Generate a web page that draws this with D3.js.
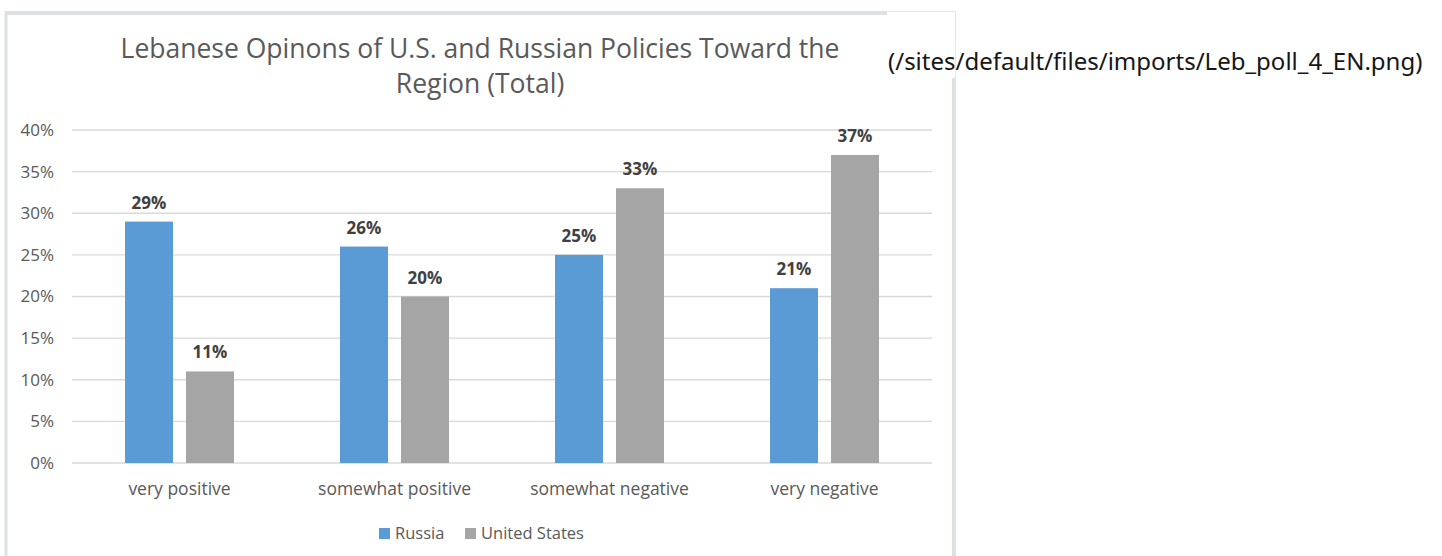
<!DOCTYPE html>
<html lang="en">
<head>
<meta charset="UTF-8">
<script src="https://cdn.jsdelivr.net/npm/d3@7"></script>
<title>Lebanese Opinons of U.S. and Russian Policies</title>
<style>
  body { margin: 0; background: #fff; overflow: hidden; }
  svg { display: block; }
</style>
</head>
<body>
<script>
// data
const categories = ['very positive', 'somewhat positive', 'somewhat negative', 'very negative'];
const seriesNames = ['Russia', 'United States'];
const russia = [0.29, 0.26, 0.25, 0.21];
const unitedStates = [0.11, 0.20, 0.33, 0.37];
const yTicks = [0, 0.05, 0.10, 0.15, 0.20, 0.25, 0.30, 0.35, 0.40];
const colors = ['#5B9BD5', '#A5A5A5'];
const titleLines = ['Lebanese Opinons of U.S. and Russian Policies Toward the', 'Region (Total)'];
const altText = '(/sites/default/files/imports/Leb_poll_4_EN.png)';

const font = '"Open Sans", sans-serif';

const svg = d3.select('body').append('svg')
  .attr('width', 1442)
  .attr('height', 556);

// frame of the embedded image
svg.append('line')
  .attr('x1', 5).attr('x2', 887).attr('y1', 13).attr('y2', 13)
  .attr('stroke', '#dde1e4').attr('stroke-width', 4);
svg.append('line')
  .attr('x1', 6).attr('x2', 6).attr('y1', 11).attr('y2', 556)
  .attr('stroke', '#dde1e4').attr('stroke-width', 3);
svg.append('line')
  .attr('x1', 954).attr('x2', 954).attr('y1', 78).attr('y2', 556)
  .attr('stroke', '#dde1e4').attr('stroke-width', 4);
svg.append('line')
  .attr('x1', 955.5).attr('x2', 955.5).attr('y1', 11).attr('y2', 78)
  .attr('stroke', '#e6e6e6').attr('stroke-width', 1);
svg.append('line')
  .attr('x1', 887).attr('x2', 956).attr('y1', 11.5).attr('y2', 11.5)
  .attr('stroke', '#e6e6e6').attr('stroke-width', 1);

// title
svg.append('g').selectAll('text')
  .data(titleLines)
  .join('text')
  .attr('x', 480)
  .attr('y', (d, i) => 58 + i * 35)
  .attr('text-anchor', 'middle')
  .attr('font-family', font)
  .attr('font-size', 26.5)
  .attr('fill', '#595959')
  .text(d => d);

// scales
const y = d3.scaleLinear().domain([0, 0.4]).range([463, 130]);
const x0 = d3.scaleBand().domain(categories).range([72, 932]).padding(0);
const x1 = d3.scaleBand().domain(seriesNames).range([53, 162]).paddingInner(0.213);

// gridlines
svg.append('g')
  .selectAll('line')
  .data(yTicks)
  .join('line')
  .attr('x1', 72).attr('x2', 932)
  .attr('y1', d => y(d)).attr('y2', d => y(d))
  .attr('stroke', '#d9d9d9').attr('stroke-width', 1.3);

// y axis labels
const yAxis = d3.axisLeft(y).tickValues(yTicks).tickFormat(d3.format('.0%')).tickSize(0).tickPadding(0);
svg.append('g')
  .attr('transform', 'translate(54,0)')
  .call(yAxis)
  .call(g => g.select('.domain').remove())
  .call(g => g.selectAll('text')
    .attr('font-family', font).attr('font-size', 17).attr('fill', '#595959'));

// x axis labels
const xAxis = d3.axisBottom(x0).tickSize(0).tickPadding(0);
svg.append('g')
  .attr('transform', 'translate(0,483)')
  .call(xAxis)
  .call(g => g.select('.domain').remove())
  .call(g => g.selectAll('text')
    .attr('font-family', font).attr('font-size', 17.5).attr('fill', '#595959'));

// bars
const rows = categories.map((c, i) => ({ category: c, values: [russia[i], unitedStates[i]] }));
const groups = svg.append('g').selectAll('g')
  .data(rows)
  .join('g')
  .attr('transform', d => `translate(${x0(d.category)},0)`);

groups.selectAll('rect')
  .data(d => d.values.map((v, i) => ({ name: seriesNames[i], value: v, i })))
  .join('rect')
  .attr('x', d => x1(d.name))
  .attr('width', x1.bandwidth())
  .attr('y', d => y(d.value))
  .attr('height', d => y(0) - y(d.value))
  .attr('fill', d => colors[d.i]);

groups.selectAll('text')
  .data(d => d.values.map((v, i) => ({ name: seriesNames[i], value: v })))
  .join('text')
  .attr('x', d => x1(d.name) + x1.bandwidth() / 2)
  .attr('y', d => y(d.value) - 13)
  .attr('text-anchor', 'middle')
  .attr('font-family', font)
  .attr('font-size', 17)
  .attr('font-weight', 'bold')
  .attr('fill', '#404040')
  .text(d => d3.format('.0%')(d.value));

// legend
const legendX = [379, 465];
const legend = svg.append('g').selectAll('g')
  .data(seriesNames)
  .join('g')
  .attr('transform', (d, i) => `translate(${legendX[i]},528)`);
legend.append('rect')
  .attr('width', 11).attr('height', 11)
  .attr('fill', (d, i) => colors[i]);
legend.append('text')
  .attr('x', 16).attr('y', 11)
  .attr('font-family', font).attr('font-size', 16.5).attr('fill', '#595959')
  .text(d => d);

// alt text of the broken image
svg.append('rect')
  .attr('x', 888).attr('y', 12).attr('width', 66).attr('height', 66)
  .attr('fill', '#fff');
svg.append('text')
  .attr('x', 888).attr('y', 70)
  .attr('font-family', '"Noto Sans", sans-serif')
  .attr('font-size', 24)
  .attr('fill', '#161616')
  .text(altText);
</script>
</body>
</html>
